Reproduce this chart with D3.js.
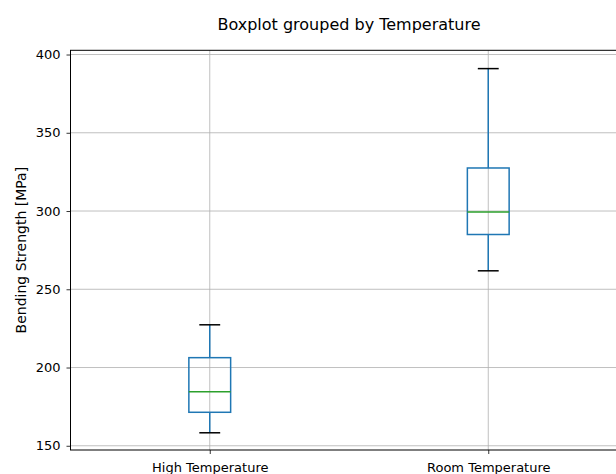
<!DOCTYPE html>
<html>
<head>
<meta charset="utf-8">
<script src="https://cdn.jsdelivr.net/npm/d3@7"></script>
<style>
html,body{margin:0;padding:0;background:#fff;overflow:hidden;}
svg{display:block;font-family:"DejaVu Sans",sans-serif;}
</style>
</head>
<body>
<svg id="chart" width="616" height="474"></svg>
<script>
const categories = ["High Temperature", "Room Temperature"];
const whiskerLow = [158.3, 261.8];
const q1 = [171.4, 285.0];
const median = [184.6, 299.3];
const q3 = [206.3, 327.5];
const whiskerHigh = [227.3, 391.0];
const yTicks = [150, 200, 250, 300, 350, 400];
const title = "Boxplot grouped by Temperature";
const yLabel = "Bending Strength [MPa]";

(function draw() {
const svg = d3.select("#chart");
const mLeft = 70.5, mRight = 627.5, mTop = 50.3, mBottom = 450;

const x = d3.scaleLinear().domain([0.5, 2.5]).range([mLeft, mRight]);
const y = d3.scaleLinear().domain([147.3, 402.7]).range([mBottom, mTop]);
const boxW = x(1.15) - x(1);
const capW = boxW / 2;

// grid
const g = svg.append("g");
g.selectAll("line.hg").data(yTicks).join("line")
  .attr("x1", mLeft).attr("x2", mRight)
  .attr("y1", d => y(d)).attr("y2", d => y(d))
  .attr("stroke", "#b0b0b0").attr("stroke-width", 0.8);
g.selectAll("line.vg").data(categories).join("line")
  .attr("x1", (d,i) => x(i+1)).attr("x2", (d,i) => x(i+1))
  .attr("y1", mTop).attr("y2", mBottom)
  .attr("stroke", "#b0b0b0").attr("stroke-width", 0.8);

// boxes
const data = categories.map((c,i) => ({c, i, lo: whiskerLow[i], q1: q1[i], med: median[i], q3: q3[i], hi: whiskerHigh[i]}));
const bx = svg.append("g").selectAll("g").data(data).join("g");
bx.append("line").attr("x1", d => x(d.i+1)).attr("x2", d => x(d.i+1))
  .attr("y1", d => y(d.q3)).attr("y2", d => y(d.hi)).attr("stroke", "#1f77b4").attr("stroke-width", 1.5);
bx.append("line").attr("x1", d => x(d.i+1)).attr("x2", d => x(d.i+1))
  .attr("y1", d => y(d.q1)).attr("y2", d => y(d.lo)).attr("stroke", "#1f77b4").attr("stroke-width", 1.5);
bx.append("line").attr("x1", d => x(d.i+1) - capW/2).attr("x2", d => x(d.i+1) + capW/2)
  .attr("y1", d => y(d.hi)).attr("y2", d => y(d.hi)).attr("stroke", "#000").attr("stroke-width", 1.5);
bx.append("line").attr("x1", d => x(d.i+1) - capW/2).attr("x2", d => x(d.i+1) + capW/2)
  .attr("y1", d => y(d.lo)).attr("y2", d => y(d.lo)).attr("stroke", "#000").attr("stroke-width", 1.5);
bx.append("rect").attr("x", d => x(d.i+1) - boxW/2).attr("width", boxW)
  .attr("y", d => y(d.q3)).attr("height", d => y(d.q1) - y(d.q3))
  .attr("fill", "none").attr("stroke", "#1f77b4").attr("stroke-width", 1.5);
bx.append("line").attr("x1", d => x(d.i+1) - boxW/2).attr("x2", d => x(d.i+1) + boxW/2)
  .attr("y1", d => y(d.med)).attr("y2", d => y(d.med)).attr("stroke", "#2ca02c").attr("stroke-width", 1.5);

// spines
svg.append("rect").attr("x", mLeft).attr("y", mTop).attr("width", mRight-mLeft).attr("height", mBottom-mTop)
  .attr("fill", "none").attr("stroke", "#000").attr("stroke-width", 1);

// axes
const yAxis = d3.axisLeft(y).tickValues(yTicks).tickSize(4).tickPadding(6);
const ya = svg.append("g").attr("transform", `translate(${mLeft},0)`).call(yAxis);
ya.select(".domain").remove();
ya.selectAll("text").attr("font-size", 13).attr("fill", "#000").attr("font-family", "DejaVu Sans");
ya.selectAll("line").attr("stroke", "#000").attr("stroke-width", 0.8);

const xAxis = d3.axisBottom(x).tickValues([1, 2]).tickFormat((d) => categories[d-1]).tickSize(4).tickPadding(8.5);
const xa = svg.append("g").attr("transform", `translate(0,${mBottom})`).call(xAxis);
xa.select(".domain").remove();
xa.selectAll("text").attr("font-size", 13).attr("fill", "#000").attr("font-family", "DejaVu Sans");
xa.selectAll("line").attr("stroke", "#000").attr("stroke-width", 0.8);

// title
svg.append("text").attr("x", (mLeft+mRight)/2).attr("y", 30)
  .attr("text-anchor", "middle").attr("font-size", 16).attr("fill", "#000").text(title);

svg.append("text").attr("transform", `translate(26,${(mTop+mBottom)/2}) rotate(-90)`)
  .attr("text-anchor", "middle").attr("font-size", 14).attr("fill", "#000").text(yLabel);
})();
</script>
</body>
</html>
